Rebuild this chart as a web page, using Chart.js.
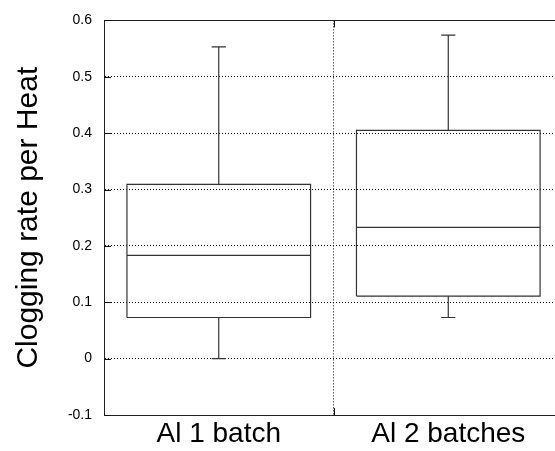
<!DOCTYPE html>
<html>
<head>
<meta charset="utf-8">
<script src="https://cdn.jsdelivr.net/npm/chart.js@4/dist/chart.umd.min.js"></script>
<style>
html,body{margin:0;padding:0;background:#fff;overflow:hidden;}
canvas{display:block;}
</style>
</head>
<body>
<canvas id="c" width="555" height="451"></canvas>
<script>
// ---- data ----
const categories = ['Al 1 batch', 'Al 2 batches'];
const whiskerMin = [0.000, 0.073];
const q1         = [0.073, 0.111];
const median     = [0.183, 0.233];
const q3         = [0.309, 0.405];
const whiskerMax = [0.553, 0.574];
const yTickValues = [-0.1, 0, 0.1, 0.2, 0.3, 0.4, 0.5, 0.6];
const yTitle = 'Clogging rate per Heat';

// ---- build box outlines (drawn through the scales) ----
const halfBox = 0.4, halfCap = 0.031;
const datasets = categories.map((name, i) => {
  const c = i + 1;
  const gap = {x: c, y: null};
  const pts = [
    {x: c - halfBox, y: q1[i]}, {x: c + halfBox, y: q1[i]}, {x: c + halfBox, y: q3[i]},
    {x: c - halfBox, y: q3[i]}, {x: c - halfBox, y: q1[i]}, gap,
    {x: c - halfBox, y: median[i]}, {x: c + halfBox, y: median[i]}, gap,
    {x: c, y: q3[i]}, {x: c, y: whiskerMax[i]}, gap,
    {x: c - halfCap, y: whiskerMax[i]}, {x: c + halfCap, y: whiskerMax[i]}, gap,
    {x: c, y: q1[i]}, {x: c, y: whiskerMin[i]}, gap,
    {x: c - halfCap, y: whiskerMin[i]}, {x: c + halfCap, y: whiskerMin[i]}
  ];
  return {
    label: name, data: pts, showLine: true, spanGaps: false,
    borderColor: '#333', borderWidth: 1.2, pointRadius: 0, fill: false, tension: 0
  };
});

// inward tick marks, gnuplot style
const innerTicks = {
  id: 'innerTicks',
  afterDraw(chart) {
    const {ctx, chartArea: a, scales: {x, y}} = chart;
    ctx.save();
    ctx.strokeStyle = '#111';
    ctx.lineWidth = 1;
    ctx.beginPath();
    yTickValues.forEach(v => {
      const py = Math.round(y.getPixelForValue(v)) + 0.5;
      ctx.moveTo(a.left, py); ctx.lineTo(a.left + 7, py);
    });
    const px = Math.round(x.getPixelForValue(1.5)) + 0.5;
    ctx.moveTo(px, a.bottom); ctx.lineTo(px, a.bottom - 7);
    ctx.moveTo(px, a.top); ctx.lineTo(px, a.top + 7);
    ctx.stroke();
    ctx.restore();
  }
};

const tickFont = {family: '"Liberation Sans", Arial, sans-serif', size: 14};
const catFont = {family: '"Liberation Sans", Arial, sans-serif', size: 28};

new Chart(document.getElementById('c'), {
  type: 'scatter',
  data: {datasets},
  plugins: [innerTicks],
  options: {
    responsive: false,
    animation: false,
    layout: {padding: {top: 17, right: 0, left: 0, bottom: 0}},
    plugins: {legend: {display: false}, tooltip: {enabled: false}},
    scales: {
      x: {
        type: 'linear', min: 0.5, max: 2.465,
        afterBuildTicks: s => { s.ticks = [{value: 1}, {value: 1.5}, {value: 2}]; },
        afterFit: s => { s.height = 36; },
        ticks: {
          autoSkip: false, maxRotation: 0, padding: 2, color: '#000', font: catFont,
          callback: v => (Number.isInteger(v) ? categories[v - 1] : '')
        },
        grid: {
          drawTicks: false,
          color: ctx => (ctx.tick && ctx.tick.value === 1.5 ? '#000' : 'rgba(0,0,0,0)'),
          lineWidth: 1
        },
        border: {display: true, color: '#222', width: 1, dash: [1, 2]}
      },
      xTop: {
        type: 'linear', position: 'top', min: 0.5, max: 2.465,
        afterFit: s => { s.height = 0; },
        ticks: {display: false},
        grid: {display: false, drawTicks: false},
        border: {display: true, color: '#222', width: 1}
      },
      y: {
        type: 'linear', min: -0.1, max: 0.6,
        afterBuildTicks: s => { s.ticks = yTickValues.map(v => ({value: v})); },
        afterFit: s => { s.width = 104; },
        ticks: {
          padding: 12, color: '#000', font: tickFont,
          callback: v => String(Math.round(v * 10) / 10)
        },
        grid: {drawTicks: false, color: '#000', lineWidth: 1},
        border: {display: true, color: '#222', width: 1, dash: [1, 2]},
        title: {
          display: true, text: yTitle, color: '#000',
          font: {family: '"Liberation Sans", Arial, sans-serif', size: 30},
          padding: {top: 11, bottom: 0}
        }
      }
    }
  }
});
</script>
</body>
</html>
